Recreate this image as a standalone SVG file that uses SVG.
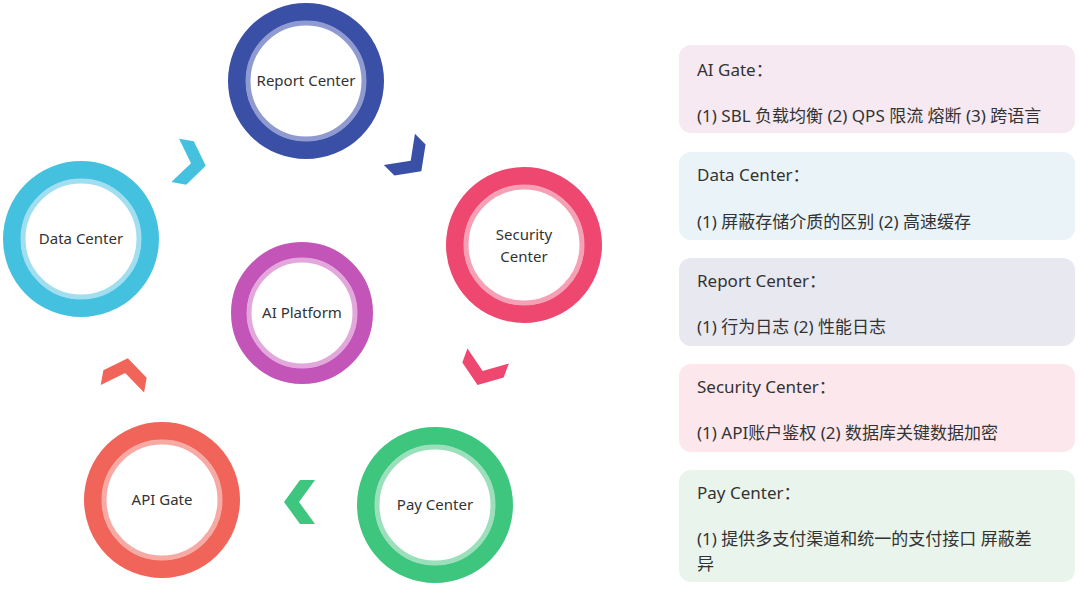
<svg xmlns="http://www.w3.org/2000/svg" width="1080" height="592" viewBox="0 0 1080 592">
<defs>
<style>
text{font-family:"Noto Sans","Noto Sans CJK SC",sans-serif;fill:#333}
.n{font-size:15px;text-anchor:middle}
.t{font-size:17px}
.inner{fill:#fff;stroke-width:5}
</style>
<polygon id="chev" points="-15,-22 0,-22 16,0 0,22 -15,22 1,0"/>
</defs>
<rect width="1080" height="592" fill="#fff"/>
<g id="report"><circle cx="306" cy="81" r="69" fill="none" stroke="#3a4fa6" stroke-width="18"/><circle class="inner" cx="306" cy="81" r="58" stroke="#8f9ad0"/><text class="n" x="306" y="86">Report Center</text></g>
<g id="security"><circle cx="524" cy="245" r="69" fill="none" stroke="#ee4770" stroke-width="18"/><circle class="inner" cx="524" cy="245" r="58" stroke="#f5a0b5"/><text class="n" x="524" y="240">Security</text><text class="n" x="524" y="262">Center</text></g>
<g id="pay"><circle cx="435" cy="505" r="69" fill="none" stroke="#3ec67f" stroke-width="18"/><circle class="inner" cx="435" cy="505" r="58" stroke="#9be0bb"/><text class="n" x="435" y="510">Pay Center</text></g>
<g id="api"><circle cx="162" cy="500" r="69" fill="none" stroke="#f0645a" stroke-width="18"/><circle class="inner" cx="162" cy="500" r="58" stroke="#f7aaa4"/><text class="n" x="162" y="505">API Gate</text></g>
<g id="data"><circle cx="81" cy="239" r="69" fill="none" stroke="#45c1e0" stroke-width="18"/><circle class="inner" cx="81" cy="239" r="58" stroke="#a0def0"/><text class="n" x="81" y="244">Data Center</text></g>
<g id="ai"><circle cx="302" cy="313" r="63" fill="none" stroke="#c455b8" stroke-width="16"/><circle class="inner" cx="302" cy="313" r="53" stroke="#e2a8dc"/><text class="n" x="302" y="318">AI Platform</text></g>
<g id="connectors">
<use href="#chev" fill="#3a4fa6" transform="translate(410,160) rotate(45)"/>
<use href="#chev" fill="#ee4770" transform="translate(483,370) rotate(110)"/>
<use href="#chev" fill="#3ec67f" transform="translate(300,502) rotate(180)"/>
<use href="#chev" fill="#f0645a" transform="translate(125,374) rotate(-80)"/>
<use href="#chev" fill="#45c1e0" transform="translate(190,163) rotate(10)"/>
</g>
<g id="panels">
<rect x="679" y="45" width="396" height="88" rx="12" fill="#f6e9f1"/>
<text class="t" x="697" y="76">AI Gate：</text><text class="t" x="697" y="122">(1) SBL 负载均衡 (2) QPS 限流 熔断 (3) 跨语言</text>
<rect x="679" y="152" width="396" height="88" rx="12" fill="#e9f3f8"/>
<text class="t" x="697" y="181">Data Center：</text><text class="t" x="697" y="228">(1) 屏蔽存储介质的区别 (2) 高速缓存</text>
<rect x="679" y="258" width="396" height="88" rx="12" fill="#e8e8f1"/>
<text class="t" x="697" y="287">Report Center：</text><text class="t" x="697" y="333">(1) 行为日志 (2) 性能日志</text>
<rect x="679" y="364" width="396" height="88" rx="12" fill="#fce8ec"/>
<text class="t" x="697" y="393">Security Center：</text><text class="t" x="697" y="439">(1) API账户鉴权 (2) 数据库关键数据加密</text>
<rect x="679" y="470" width="396" height="112" rx="12" fill="#e9f5ec"/>
<text class="t" x="697" y="499">Pay Center：</text><text class="t" x="697" y="545">(1) 提供多支付渠道和统一的支付接口 屏蔽差</text><text class="t" x="697" y="570">异</text>
</g>
</svg>
